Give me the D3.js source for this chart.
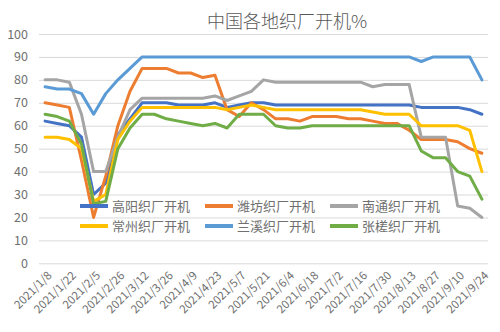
<!DOCTYPE html>
<html>
<head>
<meta charset="utf-8">
<script src="https://cdn.jsdelivr.net/npm/d3@7"></script>
<style>
  body { margin: 0; background: #fff; }
  svg text { font-family: "Noto Sans CJK SC", "Noto Sans", sans-serif; fill: #707070; }
</style>
</head>
<body>
<svg id="chart"></svg>
<script>
// weekly dates (no week of 2/12, spring festival)
const dates = ['2021/1/8', '2021/1/15', '2021/1/22', '2021/1/29', '2021/2/5', '2021/2/19',
    '2021/2/26', '2021/3/5', '2021/3/12', '2021/3/19', '2021/3/26', '2021/4/2', '2021/4/9',
    '2021/4/16', '2021/4/23', '2021/4/30', '2021/5/7', '2021/5/14', '2021/5/21', '2021/5/28',
    '2021/6/4', '2021/6/11', '2021/6/18', '2021/6/25', '2021/7/2', '2021/7/9', '2021/7/16',
    '2021/7/23', '2021/7/30', '2021/8/6', '2021/8/13', '2021/8/20', '2021/8/27', '2021/9/3',
    '2021/9/10', '2021/9/17', '2021/9/24'];

const seriesNames = ['高阳织厂开机', '潍坊织厂开机', '南通织厂开机', '常州织厂开机', '兰溪织厂开机', '张槎织厂开机'];

const gaoyang = [62, 61, 60, 55, 30, 35, 56, 63, 70, 70, 70, 69, 69, 69, 70, 68, 69, 70, 70,
    69, 69, 69, 69, 69, 69, 69, 69, 69, 69, 69, 69, 68, 68, 68, 68, 67, 65];
const weifang = [70, 69, 68, 45, 20, 38, 60, 75, 85, 85, 85, 83, 83, 81, 82, 67, 64, 70, 67,
    63, 63, 62, 64, 64, 64, 63, 63, 62, 61, 61, 58, 54, 54, 54, 53, 50, 48];
const nantong = [80, 80, 79, 65, 40, 40, 55, 67, 72, 72, 72, 72, 72, 72, 73, 71, 73, 75, 80,
    79, 79, 79, 79, 79, 79, 79, 79, 77, 78, 78, 78, 55, 55, 55, 25, 24, 20];
const changzhou = [55, 55, 54, 50, 27, 30, 54, 62, 68, 68, 68, 68, 68, 68, 68, 67, 68, 69, 68,
    67, 67, 67, 67, 67, 67, 67, 67, 66, 65, 65, 65, 60, 60, 60, 60, 58, 40];
const lanxi = [77, 76, 76, 74, 65, 74, 80, 85, 90, 90, 90, 90, 90, 90, 90, 90, 90, 90, 90,
    90, 90, 90, 90, 90, 90, 90, 90, 90, 90, 90, 90, 88, 90, 90, 90, 90, 80];
const zhangcha = [65, 64, 62, 52, 26, 27, 50, 59, 65, 65, 63, 62, 61, 60, 61, 59, 65, 65, 65,
    60, 59, 59, 60, 60, 60, 60, 60, 60, 60, 60, 60, 49, 46, 46, 40, 38, 28];

const yTicks = [0, 10, 20, 30, 40, 50, 60, 70, 80, 90, 100];
const xTickLabels = dates.filter((d, i) => i % 2 === 0);

const colors = ['#4472C4', '#ED7D31', '#A5A5A5', '#FFC000', '#5B9BD5', '#70AD47'];
const allSeries = [gaoyang, weifang, nantong, changzhou, lanxi, zhangcha];

const config = {
    width: 500,
    height: 332,
    plot: {left: 39, right: 488, top: 34, bottom: 263.3}
};

const svg = d3.select('#chart')
    .attr('width', config.width)
    .attr('height', config.height);

const xScale = d3.scalePoint()
    .domain(dates)
    .range([config.plot.left, config.plot.right])
    .padding(0.5);

const yScale = d3.scaleLinear()
    .domain([0, 100])
    .range([config.plot.bottom, config.plot.top]);

// title
svg.append('text')
    .attr('x', 287)
    .attr('y', 28)
    .attr('text-anchor', 'middle')
    .style('font-size', '18px')
    .style('font-weight', 300)
    .style('fill', '#595959')
    .text('中国各地织厂开机%');

// horizontal gridlines + y labels
const yAxis = d3.axisLeft(yScale)
    .tickValues(yTicks)
    .tickSize(-(config.plot.right - config.plot.left))
    .tickPadding(11);

const yAxisG = svg.append('g')
    .attr('transform', `translate(${config.plot.left},0)`)
    .call(yAxis);
yAxisG.select('.domain').remove();
yAxisG.selectAll('line').attr('stroke', '#d9d9d9').attr('stroke-width', 1);
yAxisG.selectAll('text').style('font-size', '12.5px');

// category axis, labels every 2 weeks
const xAxis = d3.axisBottom(xScale)
    .tickValues(xTickLabels)
    .tickSize(0);

const xAxisG = svg.append('g')
    .attr('transform', `translate(0,${config.plot.bottom})`)
    .call(xAxis);
xAxisG.select('.domain').remove();
xAxisG.selectAll('text')
    .attr('y', 0)
    .attr('dy', '0.35em')
    .attr('transform', 'translate(4,10) rotate(-45)')
    .attr('text-anchor', 'end')
    .style('font-size', '11.5px');

// lines
const line = d3.line()
    .x((d, i) => xScale(dates[i]))
    .y(d => yScale(d));

svg.append('g')
    .selectAll('path')
    .data(allSeries)
    .join('path')
    .attr('d', line)
    .attr('fill', 'none')
    .attr('stroke', (d, i) => colors[i])
    .attr('stroke-width', 3)
    .attr('stroke-linejoin', 'round')
    .attr('stroke-linecap', 'round');

// legend, 3 columns x 2 rows
const legend = svg.append('g');
const legendItems = legend.selectAll('g')
    .data(seriesNames)
    .join('g')
    .attr('transform', (d, i) => `translate(${80 + (i % 3) * 125},${i < 3 ? 206 : 226})`);

legendItems.append('line')
    .attr('x1', 0)
    .attr('x2', 28)
    .attr('stroke', (d, i) => colors[i])
    .attr('stroke-width', 4);

legendItems.append('text')
    .attr('x', 32)
    .attr('dy', '0.35em')
    .style('font-size', '13px')
    .text(d => d);
</script>
</body>
</html>
